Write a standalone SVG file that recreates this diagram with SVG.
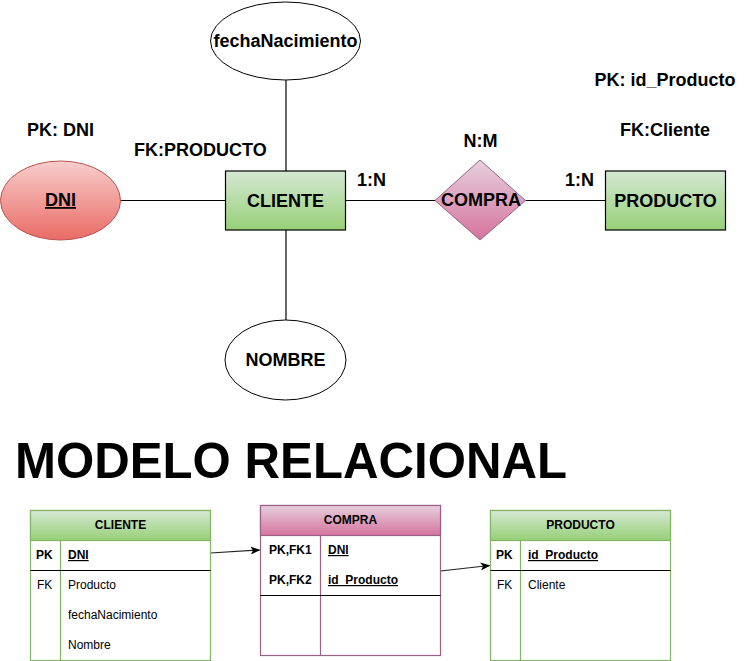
<svg xmlns="http://www.w3.org/2000/svg" width="746" height="661" viewBox="0 0 746 661">
<defs>
<linearGradient id="gGreen" x1="0" y1="0" x2="0" y2="1"><stop offset="0" stop-color="#d5e8d4"/><stop offset="1" stop-color="#97d077"/></linearGradient>
<linearGradient id="gPink" x1="0" y1="0" x2="0" y2="1"><stop offset="0" stop-color="#e6d0de"/><stop offset="1" stop-color="#d5739d"/></linearGradient>
<linearGradient id="gRed" x1="0" y1="0" x2="0" y2="1"><stop offset="0" stop-color="#f8cecc"/><stop offset="1" stop-color="#ea6b66"/></linearGradient>
<marker id="arr" markerWidth="10" markerHeight="8" refX="9" refY="4" orient="auto" markerUnits="userSpaceOnUse"><path d="M0,0 L10,4 L0,8 L2.5,4 Z" fill="#000"/></marker>
<style>
text{font-family:"Liberation Sans",Arial,sans-serif;fill:#000}
.b18{font-size:18px;font-weight:bold}
.c{text-anchor:middle}
.t12{font-size:12px}
.bd{font-weight:bold}
.u{text-decoration:underline}
.ln{stroke:#000;stroke-width:1.2;fill:none}
.ell{fill:#fff;stroke:#000;stroke-width:1}
.ent{fill:url(#gGreen);stroke:#000;stroke-width:1.2}
.tg{stroke:#82b366;stroke-width:1.2}
.tp{stroke:#996185;stroke-width:1.2}
</style>
</defs>
<g id="connectors">
<line class="ln" x1="286" y1="80" x2="286" y2="171"/>
<line class="ln" x1="286" y1="230" x2="286" y2="320"/>
<line class="ln" x1="120" y1="200.5" x2="225" y2="200.5"/>
<line class="ln" x1="345" y1="200.5" x2="435" y2="200.5"/>
<line class="ln" x1="525" y1="200.5" x2="605" y2="200.5"/>
<line x1="210.5" y1="553" x2="259.5" y2="550" stroke="#222" stroke-width="1.2" marker-end="url(#arr)"/>
<line x1="440.5" y1="571" x2="489.5" y2="565.5" stroke="#222" stroke-width="1.2" marker-end="url(#arr)"/>
</g>
<g id="fechaNacimiento">
<ellipse class="ell" cx="285.5" cy="41" rx="75" ry="39"/>
<text class="b18 c" x="285.5" y="47">fechaNacimiento</text>
</g>
<g id="dni">
<ellipse cx="60.5" cy="200.5" rx="60" ry="39.5" fill="url(#gRed)" stroke="#b85450" stroke-width="1"/>
<text class="b18 c u" x="60.5" y="206">DNI</text>
</g>
<g id="cliente">
<rect class="ent" x="225.5" y="171" width="120" height="59"/>
<text class="b18 c" x="285.5" y="206.5">CLIENTE</text>
</g>
<g id="nombre">
<ellipse class="ell" cx="285.5" cy="360" rx="60.5" ry="40"/>
<text class="b18 c" x="285.5" y="366">NOMBRE</text>
</g>
<g id="compra">
<polygon points="480,160 525.5,200.5 480,240 435,200.5" fill="url(#gPink)" stroke="#996185" stroke-width="1"/>
<text class="b18 c" x="481" y="206">COMPRA</text>
</g>
<g id="producto">
<rect class="ent" x="605.5" y="171" width="120" height="59"/>
<text class="b18 c" x="665.5" y="206.5">PRODUCTO</text>
</g>
<g id="labels">
<text class="b18" x="27" y="136">PK: DNI</text>
<text class="b18" x="134" y="156">FK:PRODUCTO</text>
<text class="b18" x="357" y="186">1:N</text>
<text class="b18 c" x="480.5" y="147">N:M</text>
<text class="b18" x="565" y="186">1:N</text>
<text class="b18 c" x="665" y="86">PK: id_Producto</text>
<text class="b18 c" x="665" y="136">FK:Cliente</text>
<text x="15" y="478" font-size="50" font-weight="bold" textLength="552" lengthAdjust="spacingAndGlyphs">MODELO RELACIONAL</text>
</g>
<g id="tabla-cliente">
<rect x="30.5" y="510.5" width="180" height="150" fill="#fff" class="tg"/>
<rect x="30.5" y="510.5" width="180" height="30" fill="url(#gGreen)" class="tg"/>
<line x1="60.5" y1="540.5" x2="60.5" y2="660.5" class="tg"/>
<line x1="30.5" y1="570.5" x2="210.5" y2="570.5" stroke="#000" stroke-width="1.2"/>
<text class="t12 bd c" x="120.5" y="529">CLIENTE</text>
<text class="t12 bd" x="36" y="559">PK</text>
<text class="t12 bd u" x="68" y="559">DNI</text>
<text class="t12" x="37" y="589">FK</text>
<text class="t12" x="68" y="589">Producto</text>
<text class="t12" x="68" y="619">fechaNacimiento</text>
<text class="t12" x="68" y="649">Nombre</text>
</g>
<g id="tabla-compra">
<rect x="260.5" y="505.5" width="180" height="150" fill="#fff" class="tp"/>
<rect x="260.5" y="505.5" width="180" height="30" fill="url(#gPink)" class="tp"/>
<line x1="320.5" y1="535.5" x2="320.5" y2="655.5" class="tp"/>
<line x1="260.5" y1="595.5" x2="440.5" y2="595.5" stroke="#000" stroke-width="1.2"/>
<text class="t12 bd c" x="350.5" y="524">COMPRA</text>
<text class="t12 bd" x="269" y="554">PK,FK1</text>
<text class="t12 bd u" x="328" y="554">DNI</text>
<text class="t12 bd" x="269" y="584">PK,FK2</text>
<text class="t12 bd u" x="328" y="584">id_Producto</text>
</g>
<g id="tabla-producto">
<rect x="490.5" y="510.5" width="180" height="150" fill="#fff" class="tg"/>
<rect x="490.5" y="510.5" width="180" height="30" fill="url(#gGreen)" class="tg"/>
<line x1="520.5" y1="540.5" x2="520.5" y2="660.5" class="tg"/>
<line x1="490.5" y1="570.5" x2="670.5" y2="570.5" stroke="#000" stroke-width="1.2"/>
<text class="t12 bd c" x="580.5" y="529">PRODUCTO</text>
<text class="t12 bd" x="496" y="559">PK</text>
<text class="t12 bd u" x="528" y="559">id_Producto</text>
<text class="t12" x="497" y="589">FK</text>
<text class="t12" x="528" y="589">Cliente</text>
</g>
</svg>
